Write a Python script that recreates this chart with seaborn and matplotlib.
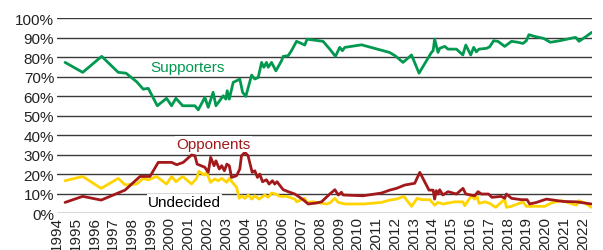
import numpy as np
import pandas as pd
import matplotlib
matplotlib.use("Agg")
import matplotlib.pyplot as plt
import seaborn as sns

# Daten (Jahr als Dezimalzahl, Anteil in %)
sup_year = [1994.43, 1995.37, 1996.38, 1997.26, 1997.67, 1998.24, 1998.59, 1998.86, 1999.34, 1999.83,
            2000.10, 2000.33, 2000.69, 2001.07, 2001.34, 2001.52, 2001.87, 2002.05, 2002.31, 2002.46,
            2002.85, 2002.99, 2003.06, 2003.17, 2003.38, 2003.56, 2003.73, 2003.88, 2004.05, 2004.36,
            2004.53, 2004.71, 2004.89, 2005.01, 2005.15, 2005.24, 2005.42, 2005.65, 2005.95, 2006.04,
            2006.30, 2006.48, 2006.75, 2007.19, 2007.31, 2007.55, 2008.16, 2008.52, 2008.82, 2009.05,
            2009.19, 2009.32, 2010.21, 2011.70, 2012.00, 2012.42, 2012.87, 2013.27, 2013.93, 2014.02,
            2014.10, 2014.28, 2014.37, 2014.64, 2014.81, 2015.26, 2015.60, 2015.76, 2016.02, 2016.18,
            2016.32, 2016.46, 2016.86, 2017.03, 2017.24, 2017.47, 2017.83, 2018.19, 2018.54, 2018.80,
            2018.98, 2019.12, 2019.42, 2019.90, 2020.26, 2020.76, 2021.43, 2021.61, 2021.78, 2022.09,
            2022.47]
sup_pct = [77.3, 72.2, 80.4, 72.2, 71.8, 67.4, 63.6, 64.0, 55.1, 58.9,
           55.1, 58.9, 55.1, 55.1, 55.1, 53.0, 59.4, 54.3, 62.0, 55.1,
           60.2, 58.5, 62.8, 58.5, 67.1, 67.9, 68.8, 62.0, 59.9, 70.8,
           68.8, 69.6, 77.3, 74.8, 77.3, 74.8, 77.3, 73.0, 78.1, 80.4,
           80.7, 83.3, 88.1, 86.2, 89.2, 88.9, 88.1, 84.1, 80.4, 85.0,
           83.3, 85.0, 86.3, 82.4, 80.7, 77.3, 81.1, 71.8, 82.4, 83.3,
           89.2, 82.4, 84.5, 85.5, 84.1, 84.1, 81.1, 86.2, 81.1, 85.0,
           82.7, 84.1, 84.5, 85.3, 88.4, 88.1, 85.5, 88.1, 87.6, 87.0,
           88.4, 91.5, 90.6, 89.6, 87.6, 88.4, 89.8, 90.1, 88.1, 90.1,
           92.7]

opp_year = [1994.43, 1995.37, 1996.35, 1997.00, 1997.62, 1998.42, 1998.95, 1999.39, 2000.10, 2000.37,
            2000.72, 2001.16, 2001.34, 2001.46, 2001.87, 2002.05, 2002.18, 2002.36, 2002.46, 2002.64,
            2002.77, 2002.91, 2003.04, 2003.17, 2003.29, 2003.56, 2003.73, 2003.82, 2004.00, 2004.17,
            2004.30, 2004.39, 2004.53, 2004.67, 2004.79, 2004.94, 2005.15, 2005.29, 2005.47, 2005.59,
            2005.71, 2006.04, 2006.39, 2006.66, 2007.10, 2007.37, 2007.81, 2008.08, 2008.52, 2008.79,
            2008.97, 2009.14, 2009.23, 2010.29, 2011.27, 2011.71, 2012.07, 2012.51, 2013.04, 2013.31,
            2013.80, 2014.02, 2014.10, 2014.19, 2014.28, 2014.37, 2014.54, 2014.81, 2015.26, 2015.61,
            2015.76, 2016.23, 2016.41, 2016.59, 2016.97, 2017.15, 2017.65, 2017.83, 2017.92, 2018.19,
            2018.72, 2019.02, 2019.16, 2019.52, 2020.05, 2020.93, 2021.64, 2022.44]
opp_pct = [5.6, 8.7, 6.8, 9.4, 11.9, 18.9, 18.9, 26.1, 26.1, 24.9,
           26.1, 29.9, 29.5, 25.2, 23.6, 21.0, 28.7, 24.4, 26.9, 22.7,
           24.4, 21.8, 25.2, 24.4, 18.4, 19.3, 22.7, 29.5, 31.2, 29.5,
           24.4, 21.0, 21.8, 18.4, 20.1, 16.2, 17.2, 15.0, 16.7, 15.0,
           16.2, 12.1, 10.8, 9.9, 7.0, 4.8, 5.3, 5.9, 9.9, 12.1,
           9.4, 10.8, 9.4, 9.0, 10.4, 11.9, 12.8, 14.5, 15.4, 21.0,
           11.9, 11.9, 7.3, 11.6, 9.9, 12.1, 9.4, 11.1, 9.9, 12.8,
           9.9, 9.0, 11.1, 9.9, 9.9, 8.2, 8.7, 7.7, 9.9, 7.7,
           7.0, 7.0, 4.8, 5.6, 7.3, 6.1, 5.9, 4.8]

und_year = [1994.43, 1995.37, 1996.35, 1997.26, 1997.62, 1998.24, 1998.59, 1998.86, 1999.30, 1999.83,
            2000.10, 2000.33, 2000.69, 2001.16, 2001.43, 2001.55, 2001.84, 2001.96, 2002.17, 2002.40,
            2002.58, 2002.76, 2003.03, 2003.17, 2003.41, 2003.56, 2003.70, 2003.82, 2004.00, 2004.18,
            2004.36, 2004.53, 2004.76, 2005.06, 2005.24, 2005.42, 2005.65, 2005.86, 2006.22, 2006.66,
            2006.75, 2007.19, 2007.28, 2007.63, 2008.34, 2008.52, 2008.79, 2008.97, 2009.32, 2010.29,
            2011.27, 2011.71, 2012.07, 2012.46, 2012.87, 2013.17, 2013.41, 2013.84, 2014.10, 2014.28,
            2014.54, 2015.17, 2015.61, 2015.70, 2016.06, 2016.23, 2016.36, 2016.46, 2016.77, 2017.03,
            2017.35, 2017.83, 2017.92, 2018.19, 2018.80, 2018.98, 2019.52, 2019.96, 2020.31, 2020.85,
            2021.64, 2021.78, 2022.09, 2022.44]
und_pct = [16.7, 18.9, 12.8, 17.9, 14.6, 15.0, 17.9, 17.1, 18.9, 15.0,
           18.9, 16.2, 18.9, 15.0, 17.9, 21.5, 19.6, 21.0, 15.9, 17.6,
           16.7, 17.9, 15.9, 17.9, 15.0, 13.3, 7.7, 9.0, 7.7, 9.4,
           7.3, 9.0, 7.3, 9.4, 8.2, 10.4, 9.9, 8.7, 8.7, 7.3,
           5.9, 7.7, 5.6, 5.9, 4.8, 5.3, 7.7, 5.6, 4.8, 4.8,
           5.6, 6.8, 7.3, 8.7, 3.6, 7.7, 7.0, 7.0, 4.2, 5.6,
           4.8, 5.9, 5.9, 3.9, 9.0, 7.3, 8.7, 5.1, 5.9, 5.1,
           3.1, 7.3, 3.1, 3.6, 5.9, 3.6, 3.6, 3.6, 5.3, 6.5,
           4.2, 6.5, 5.3, 3.1]

years = list(range(1994, 2023))

green = "#00994f"
red = "#a3191b"
yellow = "#ffd400"

sns.set_style("white")
plt.rcParams["font.family"] = ["Liberation Sans", "DejaVu Sans"]

fig = plt.figure(figsize=(6.03, 2.51), dpi=100)
ax = fig.add_axes([0.0945, 0.146, 0.888, 0.778])

sns.lineplot(x=und_year, y=und_pct, color=yellow, linewidth=2.0, sort=False, ax=ax, zorder=3)
sns.lineplot(x=opp_year, y=opp_pct, color=red, linewidth=2.0, sort=False, ax=ax, zorder=4)
sns.lineplot(x=sup_year, y=sup_pct, color=green, linewidth=2.0, sort=False, ax=ax, zorder=5)

box = dict(facecolor="white", edgecolor="none", pad=1.0)
ax.text(1998.95, 74.8, "Supporters", color=green, fontsize=11, va="center", ha="left", bbox=box, zorder=6)
ax.text(2000.37, 35.5, "Opponents", color=red, fontsize=11, va="center", ha="left", bbox=box, zorder=6)
ax.text(1998.84, 5.8, "Undecided", color="black", fontsize=11, va="center", ha="left", bbox=box, zorder=6)

ax.set_xlim(1994, 2022.5)
ax.set_ylim(0, 100)
ax.set_yticks(range(0, 101, 10))
ax.set_yticklabels([f"{v}%" for v in range(0, 101, 10)], fontsize=11, color="#222222")
ax.set_xticks(years)
ax.set_xticklabels([str(y) for y in years], rotation=90, fontsize=11, color="#222222")
ax.tick_params(length=0, pad=2)
ax.yaxis.grid(True, color="#3a3a3a", linewidth=1.0)
ax.xaxis.grid(False)
ax.set_axisbelow(True)
for s in ax.spines.values():
    s.set_visible(False)
ax.set_xlabel("")
ax.set_ylabel("")

fig.savefig("out.png", dpi=100)
